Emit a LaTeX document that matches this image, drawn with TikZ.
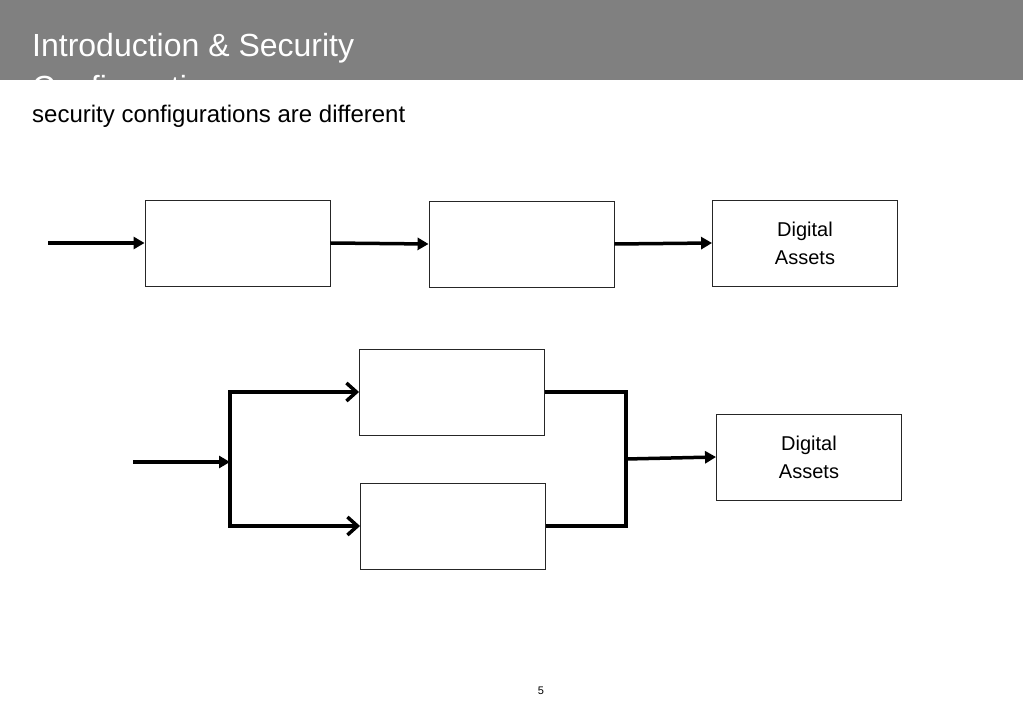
\documentclass[tikz,border=0pt]{standalone}
\usepackage{fontspec}
\setmainfont{Liberation Sans}
\usetikzlibrary{arrows.meta}
\begin{document}
\begin{tikzpicture}[x=1pt,y=-1pt,
  blk/.style={draw=black!85, line width=0.9pt, minimum width=185pt, minimum height=86pt, inner sep=0pt, fill=white},
  lbl/.style={font=\fontsize{20}{28}\selectfont, align=center},
  ttl/.style={anchor=base west, text=white, font=\fontsize{32}{44}\selectfont, inner sep=0pt},
  farrow/.style={line width=3.5pt, -{Triangle[length=11pt,width=12pt]}},
  barrow/.style={line width=3.5pt, -{Straight Barb[length=10pt,width=18pt,line width=3.5pt]}},
  wire/.style={line width=3.5pt, line cap=butt, line join=miter}]
\useasboundingbox (0,0) rectangle (1023,708);
\fill[white] (0,0) rectangle (1023,708);
\fill[black!50] (0,0) rectangle (1023,80);
\begin{scope}
\clip (0,0) rectangle (1023,80);
\node[ttl] (title) at (32,57) {Introduction \& Security};
\node[ttl, text depth=0pt] (title2) at (32,99) {Configuration};
\end{scope}
\node[anchor=base west, font=\fontsize{24}{28}\selectfont, inner sep=0pt] (sub) at (32,123) {security configurations are different};
% top row
\node[blk] (a1) at (237.5,243) {};
\node[blk] (a2) at (521.5,244) {};
\node[blk, lbl] (a3) at (805,243) {Digital\\Assets};
\coordinate (in1) at (48,243);
\draw[farrow] (in1) -- (a1.west);
\draw[farrow] (a1.east) -- (a2.west);
\draw[farrow] (a2.east) -- (a3.west);
% bottom
\node[blk] (b1) at (452,392) {};
\node[blk] (b2) at (453,526) {};
\node[blk, lbl] (b3) at (809,457) {Digital\\Assets};
\coordinate (in2) at (133,462);
\coordinate (s) at (230,462);
\coordinate (s1) at (230,392);
\coordinate (s2) at (230,526);
\coordinate (m) at (626,459);
\coordinate (m1) at (626,392);
\coordinate (m2) at (626,526);
\draw[farrow] (in2) -- (s);
\draw[barrow] (s2) -- (s1) -- (b1.west);
\draw[barrow] (s1) -- (s2) -- (b2.west);
\draw[wire] (b1.east) -- (m1) -- (m2) -- (b2.east);
\draw[farrow] (m) -- (b3.west);
\node[font=\fontsize{11}{13}\selectfont] (pg) at (541,691) {5};
\end{tikzpicture}
\end{document}
